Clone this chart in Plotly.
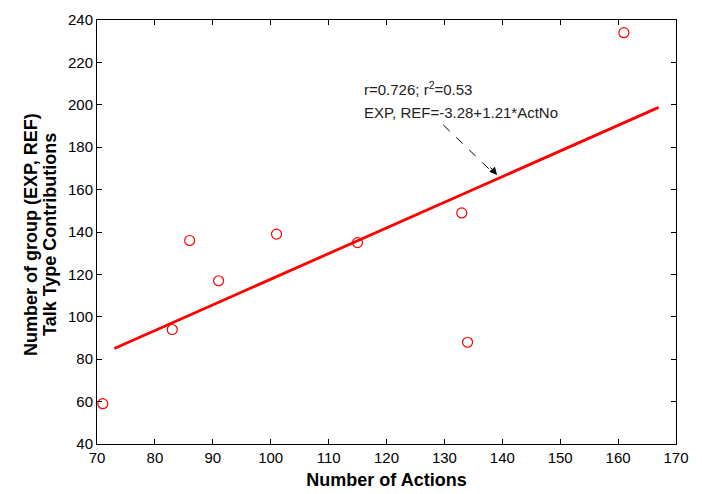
"""Scatter of talk type contributions vs number of actions, with fitted line."""
import plotly.graph_objects as go

# observed groups
actions = [71, 83, 86, 91, 101, 115, 133, 134, 161]
contributions = [59, 94, 136, 117, 139, 135, 149, 88, 234]

# regression line endpoints (EXP, REF = -3.28 + 1.21*ActNo)
fit_x = [73, 167]
fit_y = [85.05, 198.79]

x_ticks = list(range(70, 171, 10))
y_ticks = list(range(40, 241, 20))

y_title_lines = ["Number of group (EXP, REF)", "Talk Type Contributions"]

FONT = "Liberation Sans, Arial, sans-serif"

fig = go.Figure()

fig.add_trace(go.Scatter(
    x=fit_x, y=fit_y,
    mode="lines",
    line=dict(color="#ff0000", width=2.8),
    showlegend=False,
))

fig.add_trace(go.Scatter(
    x=actions, y=contributions,
    mode="markers",
    marker=dict(symbol="circle-open", size=10, color="#ff0000", line=dict(width=1.2)),
    showlegend=False,
))

# annotation text
fig.add_annotation(
    x=115.8, y=207.9, xref="x", yref="y",
    text="r=0.726; r<sup>2</sup>=0.53",
    showarrow=False, xanchor="left", yanchor="middle",
    font=dict(family=FONT, size=15, color="#222"),
)
fig.add_annotation(
    x=115.8, y=196.6, xref="x", yref="y",
    text="EXP, REF=-3.28+1.21*ActNo",
    showarrow=False, xanchor="left", yanchor="middle",
    font=dict(family=FONT, size=15, color="#222"),
)

# dashed arrow: dashed shaft + arrowhead
fig.add_shape(
    type="line", xref="x", yref="y",
    x0=129.8, y0=190.5, x1=137.8, y1=169.5,
    line=dict(color="black", width=1, dash="dash"),
)
fig.add_annotation(
    x=139.1, y=166.9, xref="x", yref="y",
    ax=-8, ay=-9, axref="pixel", ayref="pixel",
    text="", showarrow=True,
    arrowhead=2, arrowsize=1.5, arrowwidth=1, arrowcolor="black", standoff=0,
)

# y title as two tight rotated lines
for line, shift in zip(y_title_lines, [-66, -47]):
    fig.add_annotation(
        x=0, y=0.5, xref="paper", yref="paper",
        xshift=shift, yshift=-3,
        text=f"<b>{line}</b>", textangle=-90,
        showarrow=False, xanchor="center", yanchor="middle",
        font=dict(family=FONT, size=18, color="black"),
    )

axis_common = dict(
    showgrid=False, zeroline=False, automargin=False,
    showline=True, linecolor="black", linewidth=1, mirror="ticks",
    ticks="inside", ticklen=5, tickcolor="black",
    tickfont=dict(family=FONT, size=15, color="black"),
)

fig.update_xaxes(
    range=[70, 170], tickvals=x_ticks,
    title=dict(text="<b>Number of Actions</b>", font=dict(family=FONT, size=18, color="black"), standoff=8),
    **axis_common,
)
fig.update_yaxes(range=[40, 240], tickvals=y_ticks, **axis_common)

# page body has an 8px margin, so the figure is sized to fit the window
fig.update_layout(
    width=694, height=486,
    margin=dict(l=89, r=26, t=12, b=50),
    paper_bgcolor="white", plot_bgcolor="white",
)

fig.write_html("out.html")
